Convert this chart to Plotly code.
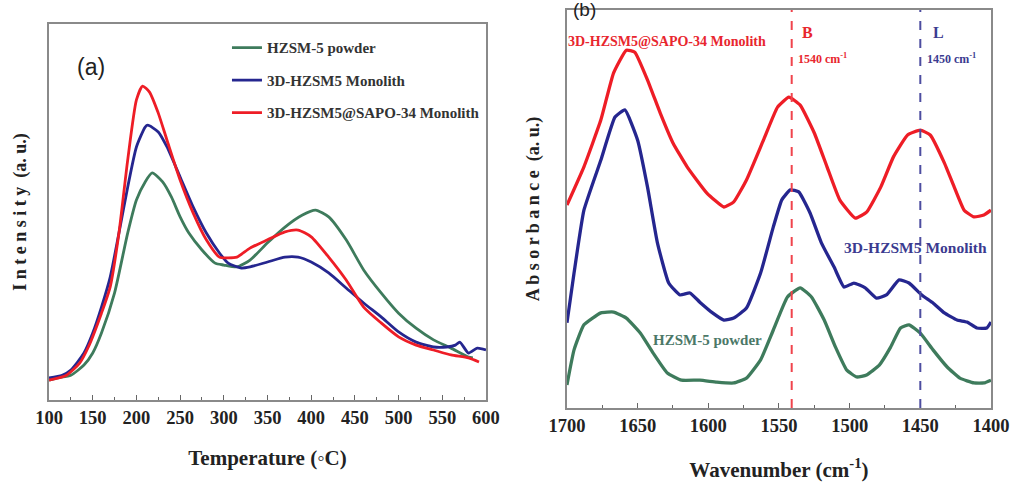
import plotly.graph_objects as go

# ---------------- Panel (a): NH3-TPD profiles ----------------
temp_powder = [100, 110, 125, 140, 150, 160, 175, 190, 200, 210, 218, 230, 240, 250, 260, 275, 290,
               300, 315, 330, 350, 370, 390, 405, 420, 440, 460, 480, 500, 520, 540, 560, 580, 585]
int_powder = [5.3, 5.9, 6.6, 9.3, 12.5, 17.8, 28.5, 44.4, 53.2, 58.0, 60.4, 58.0, 54.0, 48.7, 44.4, 39.9, 36.4,
              35.9, 35.4, 37.2, 41.8, 46.0, 49.2, 50.5, 48.7, 42.6, 34.6, 28.5, 23.1, 19.1, 16.0, 13.8, 11.4, 11.2]

temp_mono = [100, 115, 125, 140, 150, 160, 170, 180, 190, 200, 210, 213, 225, 235, 250, 265, 280, 295, 305,
             320, 330, 350, 370, 385, 400, 420, 440, 460, 480, 500, 520, 540, 555, 565, 570, 580, 590, 600]
int_mono = [5.9, 6.6, 8.0, 12.5, 17.8, 24.7, 32.7, 44.4, 56.6, 67.3, 72.6, 73.1, 71.3, 67.3, 59.3, 51.3, 44.4,
            39.1, 36.4, 35.1, 35.4, 36.7, 38.0, 38.0, 36.7, 33.8, 29.8, 25.8, 22.1, 18.1, 15.4, 14.1, 14.1,
            14.6, 15.4, 12.5, 13.8, 13.3]

temp_sapo = [100, 120, 135, 145, 160, 170, 180, 190, 200, 207, 215, 225, 235, 250, 265, 280, 295, 305, 315,
             330, 350, 370, 385, 400, 420, 440, 460, 480, 500, 520, 540, 560, 580, 592]
int_sapo = [5.3, 6.6, 9.8, 14.1, 23.1, 30.1, 44.4, 63.8, 79.8, 83.5, 81.9, 76.3, 69.1, 58.5, 49.7, 42.6, 38.0,
            37.8, 38.0, 40.4, 42.6, 44.7, 45.2, 43.4, 38.0, 31.9, 24.7, 20.5, 16.8, 14.6, 13.3, 12.0, 11.2, 10.1]

# ---------------- Panel (b): pyridine FTIR spectra ----------------
wn_sapo = [1700, 1688, 1676, 1667, 1658, 1652, 1643, 1634, 1625, 1615, 1601, 1589, 1582, 1573, 1561, 1551,
           1543, 1535, 1525, 1516, 1507, 1496, 1488, 1478, 1469, 1459, 1450, 1443, 1433, 1426, 1419, 1412,
           1405, 1400]
abs_sapo = [51.0, 60.6, 72.4, 84.2, 89.9, 89.4, 82.4, 74.1, 66.6, 60.6, 54.0, 50.5, 51.8, 57.3, 67.3, 75.6,
            78.1, 76.1, 69.1, 60.6, 52.3, 47.7, 49.2, 55.5, 63.1, 68.6, 69.8, 68.6, 61.6, 55.5, 49.7, 48.0,
            48.5, 49.7]

wn_mono = [1700, 1695, 1688, 1676, 1666, 1659, 1650, 1643, 1636, 1628, 1620, 1613, 1606, 1597, 1589, 1582,
           1573, 1563, 1554, 1548, 1542, 1536, 1528, 1520, 1511, 1504, 1497, 1489, 1481, 1474, 1465, 1458,
           1449, 1441, 1433, 1424, 1417, 1410, 1403, 1400]
abs_mono = [21.4, 33.9, 49.7, 62.3, 73.1, 74.9, 67.3, 55.5, 41.5, 31.4, 28.4, 28.9, 26.6, 23.9, 22.1, 22.6,
            25.1, 33.9, 45.5, 52.3, 54.8, 54.3, 49.0, 41.5, 35.4, 30.4, 31.4, 30.2, 27.6, 28.4, 32.2, 31.4,
            28.4, 26.4, 23.9, 22.1, 21.6, 20.1, 20.1, 21.6]

wn_powder = [1700, 1695, 1688, 1676, 1667, 1658, 1648, 1639, 1629, 1619, 1606, 1594, 1582, 1573, 1563, 1554,
             1544, 1535, 1527, 1518, 1510, 1502, 1495, 1488, 1479, 1471, 1464, 1458, 1450, 1441, 1431, 1422,
             1412, 1405, 1400]
abs_powder = [5.8, 14.6, 20.9, 23.9, 24.1, 22.6, 18.8, 13.8, 8.8, 7.0, 7.0, 6.5, 6.3, 7.5, 12.1, 19.6,
              27.9, 30.2, 27.9, 22.1, 15.3, 9.5, 7.8, 8.3, 10.8, 15.3, 20.1, 20.9, 18.8, 14.6, 10.3, 7.5,
              6.3, 6.3, 7.0]

band_B = 1541
band_L = 1450

names = ["HZSM-5 powder", "3D-HZSM5 Monolith", "3D-HZSM5@SAPO-34 Monolith"]

GREEN = "#3e7b5c"
BLUE = "#25268f"
RED = "#ee1d26"
SERIF = "Liberation Serif, Times New Roman, serif"

fig = go.Figure()

for i, (x, y, c) in enumerate([(temp_powder, int_powder, GREEN),
                               (temp_mono, int_mono, BLUE),
                               (temp_sapo, int_sapo, RED)]):
    fig.add_trace(go.Scatter(x=x, y=y, mode="lines", name=names[i], legendgroup=f"g{i}",
                             line=dict(color=c, width=2.8, shape="spline", smoothing=0.6),
                             xaxis="x", yaxis="y"))

for x, y, c in [(wn_sapo, abs_sapo, RED), (wn_mono, abs_mono, BLUE), (wn_powder, abs_powder, GREEN)]:
    fig.add_trace(go.Scatter(x=x, y=y, mode="lines", showlegend=False,
                             line=dict(color=c, width=3.3, shape="spline", smoothing=0.4),
                             xaxis="x2", yaxis="y2"))

tickfont = dict(family=SERIF, size=18.5, color="#222", weight="bold")
titlefont = dict(family=SERIF, size=21, color="#222", weight="bold")
ytitlefont = dict(family=SERIF, size=18, color="#222", weight="bold")
frame = dict(showline=True, linecolor="#8a8a8a", linewidth=1.5, mirror=True, showgrid=False,
             zeroline=False, automargin=False)

fig.update_layout(
    width=1011, height=482,
    margin=dict(l=0, r=0, t=0, b=0),
    paper_bgcolor="white", plot_bgcolor="white",
    xaxis=dict(domain=[0.0485, 0.4807], range=[100, 600], tickvals=list(range(100, 601, 50)),
               ticks="inside", ticklen=5, tickcolor="#666", tickfont=tickfont, anchor="y",
               minor=dict(ticks="inside", ticklen=3, dtick=25, tickcolor="#666"),
               title=dict(text="Temperature (◦C)", font=titlefont, standoff=23), **frame),
    yaxis=dict(domain=[0.1701, 0.9502], range=[0, 100], showticklabels=False, ticks="", anchor="x",
               title=dict(text="I n t e n s i t y  (a. u.)", font=ytitlefont, standoff=16), **frame),
    xaxis2=dict(domain=[0.5608, 0.9802], range=[1700, 1400], tickvals=list(range(1400, 1701, 50)),
                ticks="inside", ticklen=5, tickcolor="#666", tickfont=tickfont, anchor="y2",
                minor=dict(ticks="inside", ticklen=3, dtick=25, tickcolor="#666"),
                title=dict(text="Wavenumber (cm<sup>-1</sup>)", font=titlefont, standoff=29), **frame),
    yaxis2=dict(domain=[0.1535, 0.9793], range=[0, 100], showticklabels=False, ticks="", anchor="x2",
                title=dict(text="A b s o r b a n c e  (a. u.)", font=ytitlefont, standoff=21), **frame),
    showlegend=True,
    legend=dict(x=0.2245, y=0.935, xanchor="left", yanchor="top", bgcolor="rgba(0,0,0,0)",
                font=dict(family=SERIF, size=15, color="#333", weight="bold"),
                traceorder="grouped", tracegroupgap=10, itemwidth=30),
)

# Brønsted and Lewis band markers
for wn, col in [(band_B, "#f0444c"), (band_L, "#4d4da0")]:
    fig.add_shape(type="line", xref="x2", yref="y2", x0=wn, x1=wn, y0=0, y1=100,
                  line=dict(color=col, width=2, dash="dash"))

def ann_font(size, col):
    return dict(family=SERIF, size=size, color=col, weight="bold")

annotations = [
    dict(x=75, y=67, text="(a)", font=dict(family="Liberation Sans", size=23, color="#222")),
    dict(x=571, y=9, text="(b)", font=dict(family="Liberation Sans", size=19, color="#222")),
    dict(x=566, y=41, text="3D-HZSM5@SAPO-34 Monolith", font=ann_font(14, "#e8262e")),
    dict(x=800, y=33, text="B", font=ann_font(16, "#e8262e")),
    dict(x=796, y=58, text="1540 cm<sup>-1</sup>", font=ann_font(12, "#e8262e")),
    dict(x=931, y=33, text="L", font=ann_font(16, "#3b3b90")),
    dict(x=925, y=58, text="1450 cm<sup>-1</sup>", font=ann_font(12, "#3b3b90")),
    dict(x=842, y=248, text="3D-HZSM5 Monolith", font=ann_font(15.5, "#3b3b90")),
    dict(x=651, y=340, text="HZSM-5 powder", font=ann_font(15, "#4c7868")),
]
for a in annotations:
    fig.add_annotation(xref="paper", yref="paper", x=a["x"] / 1011, y=1 - a["y"] / 482,
                       xanchor="left", yanchor="middle", showarrow=False, text=a["text"], font=a["font"])

fig.write_html("out.html")
